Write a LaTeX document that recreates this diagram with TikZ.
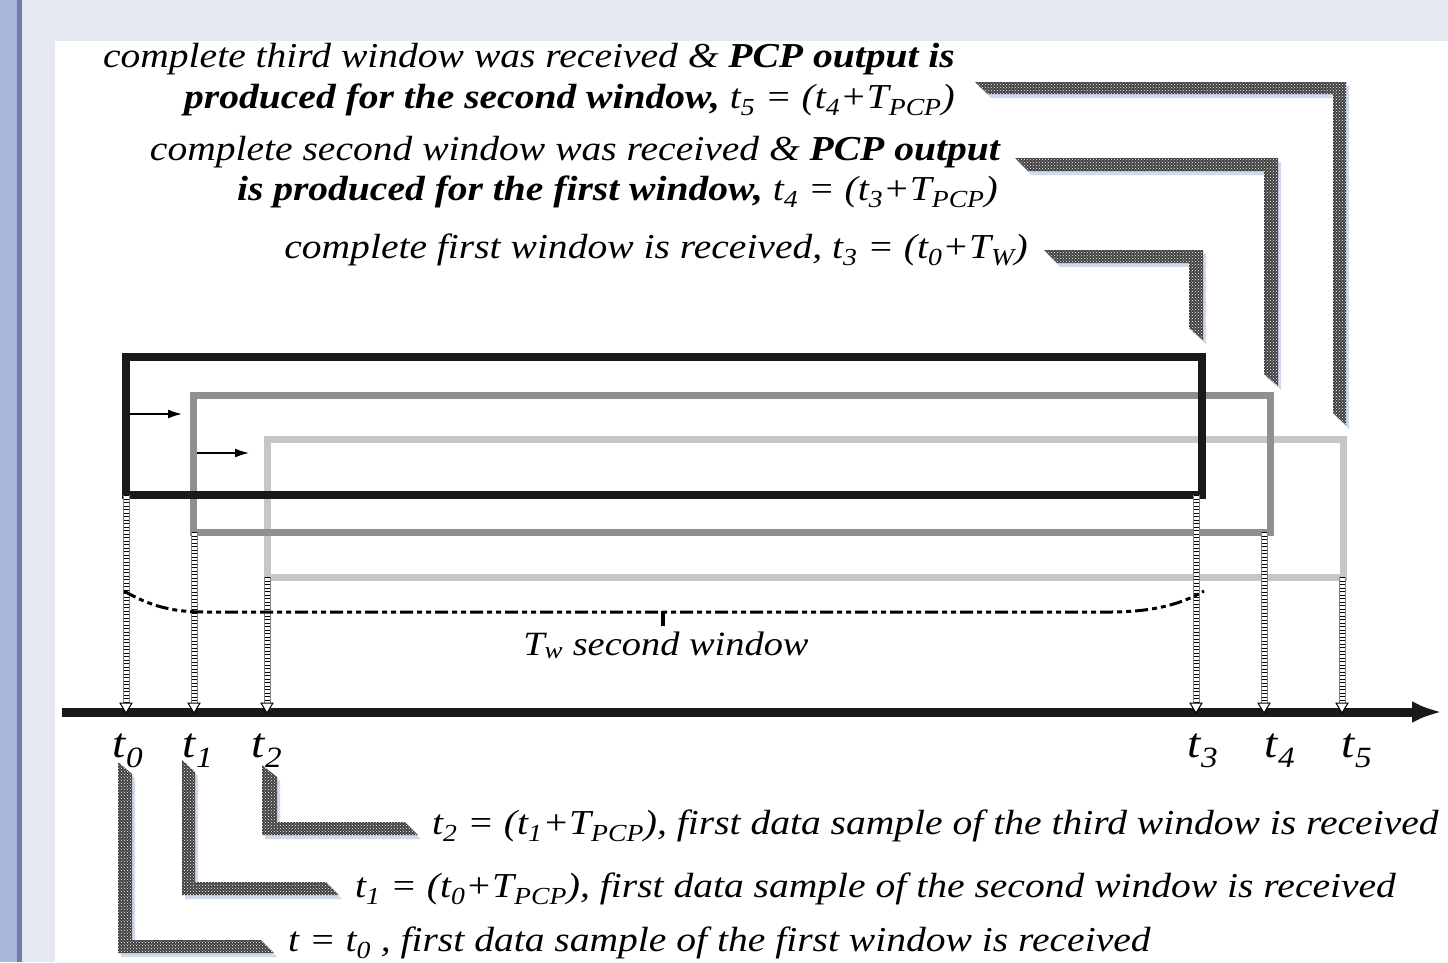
\documentclass[tikz,border=0pt]{standalone}
\usepackage{fontspec}
\setmainfont{Liberation Serif}[FakeStretch=1.13]
\usepackage{tikz}
\usetikzlibrary{arrows.meta,patterns,calc}
\definecolor{randblau}{RGB}{168,182,218}
\definecolor{randdunkel}{RGB}{110,126,168}
\definecolor{hgblau}{RGB}{229,232,241}
\definecolor{fenstergrau}{RGB}{143,143,143}
\definecolor{fensterhell}{RGB}{198,198,198}
\definecolor{schatten}{RGB}{208,218,238}
\newcommand{\tsub}[2]{\textit{#1}\textsubscript{\textit{#2}}}
\tikzset{
  fuehrung/.style={fill=black!75, postaction={pattern=crosshatch dots, pattern color=white!75}},
  fschatten/.style={fill=schatten, shift={(3,4)}},
  txt/.style={font=\fontsize{35}{42}\selectfont\itshape, inner sep=0pt},
  zeit/.style={font=\fontsize{42}{50}\selectfont\itshape, inner sep=0pt, anchor=base}
}

\begin{document}
\begin{tikzpicture}[x=1pt, y=-1pt, >={Latex[length=14pt,width=9pt]}]
	\useasboundingbox (0,0) rectangle (1448,962);
	% Hintergrund
	\fill[hgblau] (0,0) rectangle (1448,962);
	\fill[randblau] (0,0) rectangle (17,962);
	\fill[randdunkel] (17,0) rectangle (22,962);
	\fill[white] (55,41) rectangle (1448,962);
	% Fuehrungslinien oben
	\foreach \st in {fschatten,fuehrung}{
		\path[\st] (975,82) -- (1346,82) -- (1346,425) -- (1333,413) -- (1333,94) -- (988,94) -- cycle;
		\path[\st] (1015,158) -- (1278,158) -- (1278,386) -- (1264,374) -- (1264,171) -- (1028,171) -- cycle;
		\path[\st] (1044,250) -- (1203,250) -- (1203,340) -- (1189,328) -- (1189,263) -- (1057,263) -- cycle;
		% Fuehrungslinien unten
		\path[\st] (118,762) -- (132,774) -- (132,940) -- (261,940) -- (274,953) -- (118,953) -- cycle;
		\path[\st] (182,760) -- (195,772) -- (195,882) -- (326,882) -- (339,895) -- (182,895) -- cycle;
		\path[\st] (262,765) -- (277,777) -- (277,822) -- (405,822) -- (418,835) -- (262,835) -- cycle;
	}
	% Fenster
	\draw[fensterhell, line width=7pt] (267,439) rectangle (1343,577);
	\draw[fenstergrau, line width=7pt] (193,395) rectangle (1270,532);
	\draw[black!90, line width=7.5pt] (126,357) rectangle (1202,495);
	\draw[->, line width=1.5pt] (130,414) -- (182,414);
	\draw[->, line width=1.5pt] (197,453) -- (249,453);
	% Zeitachse
	\draw[-{Latex[length=30pt,width=22pt]}, line width=9pt, black!90] (62,712) -- (1442,712);
	% Leitern zu den Zeitpunkten
	\foreach \i/\x/\y in {0/126/495,1/194/532,2/267/577,3/1196/495,4/1264/532,5/1342/577}{
		\coordinate (o\i) at (\x,\y);
		\coordinate (u\i) at (\x,704);
		\draw[gray, line width=1pt, double=white, double distance=5pt] (o\i) -- (u\i);
		\draw[line width=5pt, dash pattern=on 1pt off 2.5pt] (o\i) -- (u\i);
		\draw[fill=white, line width=1pt] ($(u\i)+(-6,-1)$) -- ($(u\i)+(6,-1)$) -- ($(u\i)+(0,9)$) -- cycle;
	}
	% Bogen fuer T_w
	\draw[line width=3pt, dash pattern=on 13pt off 4pt on 5pt off 4pt on 5pt off 4pt]
		(124,591) .. controls (150,606) and (172,612) .. (205,612) -- (1110,612)
		.. controls (1150,612) and (1180,605) .. (1204,591);
	\draw[line width=3.5pt] (663,611) -- (663,626);
	\node[txt, anchor=base] (tw) at (666,655) {\fontsize{34}{40}\selectfont\tsub{T}{w} second window};
	% Zeitpunkte
	\foreach \i/\x in {0/128,1/198,2/267,3/1203,4/1280,5/1357}
		\node[zeit] (l\i) at (\x,757) {t\textsubscript{\i}};
	% Beschriftung oben
	\node[txt, anchor=base east] (txt5a) at (955,67) {complete third window was received \& \textbf{PCP output is}};
	\node[txt, anchor=base east] (txt5b) at (955,108) {\textbf{produced for the second window,} \tsub{t}{5} = (\tsub{t}{4}+\tsub{T}{PCP})};
	\node[txt, anchor=base east] (txt4a) at (1000,160) {complete second window was received \& \textbf{PCP output}};
	\node[txt, anchor=base east] (txt4b) at (998,200) {\textbf{is produced for the first window,} \tsub{t}{4} = (\tsub{t}{3}+\tsub{T}{PCP})};
	\node[txt, anchor=base east] (txt3) at (1028,258) {complete first window is received, \tsub{t}{3} = (\tsub{t}{0}+\tsub{T}{W})};
	% Beschriftung unten
	\node[txt, anchor=base west] (txt2) at (432,834) {\tsub{t}{2} = (\tsub{t}{1}+\tsub{T}{PCP}), first data sample of the third window is received};
	\node[txt, anchor=base west] (txt1) at (355,897) {\tsub{t}{1} = (\tsub{t}{0}+\tsub{T}{PCP}), first data sample of the second window is received};
	\node[txt, anchor=base west] (txt0) at (288,951) {\textit{t} = \tsub{t}{0} , first data sample of the first window is received};
\end{tikzpicture}
\end{document}
